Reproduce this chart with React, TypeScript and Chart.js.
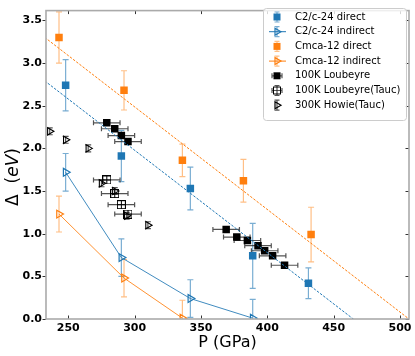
import React, { useEffect, useRef } from 'react';
import { Chart, registerables } from 'chart.js';

Chart.register(...registerables);

const BLUE = '#1f77b4';
const ORANGE = '#ff7f0e';
const BLUE_ERR = 'rgba(31,119,180,0.6)';
const ORANGE_ERR = 'rgba(255,127,14,0.5)';
const BLACK_ERR = 'rgba(40,40,40,0.8)';

// C2/c-24
const c2cDirectP = [248, 290, 342, 389, 431];
const c2cDirectGap = [2.74, 1.91, 1.53, 0.74, 0.42];
const c2cDirectErr = [0.3, 0.3, 0.25, 0.38, 0.18];
const c2cIndirectP = [248, 290, 342, 389];
const c2cIndirectGap = [1.72, 0.72, 0.24, 0.01];
const c2cIndirectErr = [0.22, 0.22, 0.22, 0.22];
const c2cFitIntercept = 5.579;
const c2cFitSlope = -0.012003;

// Cmca-12
const cmcaDirectP = [243, 292, 336, 382, 433];
const cmcaDirectGap = [3.3, 2.68, 1.86, 1.62, 0.99];
const cmcaDirectErr = [0.3, 0.23, 0.19, 0.25, 0.32];
const cmcaIndirectP = [243, 292, 336];
const cmcaIndirectGap = [1.23, 0.48, 0.01];
const cmcaIndirectErr = [0.21, 0.22, 0.21];
const cmcaFitIntercept = 6.094;
const cmcaFitSlope = -0.012025;

// Experiments
const loubeyreP = [279, 285, 290, 295, 369, 377, 385, 393, 398, 404, 413];
const loubeyreGap = [2.3, 2.23, 2.15, 2.08, 1.05, 0.96, 0.92, 0.86, 0.8, 0.74, 0.63];
const loubeyrePErr = [10, 10, 10, 10, 10, 10, 10, 10, 10, 10, 10];

const loubeyreTaucP = [279, 285, 290, 295];
const loubeyreTaucGap = [1.63, 1.47, 1.34, 1.23];
const loubeyreTaucPErr = [10, 10, 10, 10];

const howieP = [236, 248, 265, 275, 285, 294, 310];
const howieGap = [2.2, 2.1, 2.0, 1.59, 1.5, 1.21, 1.1];
const howieErr = [0.04, 0.04, 0.04, 0.04, 0.04, 0.04, 0.04];

const fitRangeP = [225, 515];
const xTicks = [250, 300, 350, 400, 450, 500];
const yTicks = [0, 0.5, 1, 1.5, 2, 2.5, 3, 3.5];
const legendLabels = [
  'C2/c-24 direct',
  'C2/c-24 indirect',
  'Cmca-12 direct',
  'Cmca-12 indirect',
  '100K Loubeyre',
  '100K Loubeyre(Tauc)',
  '300K Howie(Tauc)',
];

const FONT = '"DejaVu Sans", sans-serif';

function pts(xs: number[], ys: number[]) {
  return xs.map((x, i) => ({ x, y: ys[i] }));
}

function makeBoxPlus(size: number) {
  const c = document.createElement('canvas');
  c.width = size;
  c.height = size;
  const g = c.getContext('2d')!;
  g.strokeStyle = '#000';
  g.lineWidth = 1;
  g.strokeRect(0.5, 0.5, size - 1, size - 1);
  g.beginPath();
  g.moveTo(size / 2, 0);
  g.lineTo(size / 2, size);
  g.moveTo(0, size / 2);
  g.lineTo(size, size / 2);
  g.stroke();
  return c;
}

function drawTri(ctx: CanvasRenderingContext2D, x: number, y: number, r: number, color: string) {
  ctx.save();
  ctx.strokeStyle = color;
  ctx.lineWidth = 1.2;
  ctx.beginPath();
  for (let k = 0; k < 3; k++) {
    const a = Math.PI / 2 + (k * 2 * Math.PI) / 3;
    const px = x + Math.sin(a) * r;
    const py = y - Math.cos(a) * r;
    if (k === 0) ctx.moveTo(px, py);
    else ctx.lineTo(px, py);
  }
  ctx.closePath();
  ctx.stroke();
  ctx.restore();
}

function vErr(ctx: CanvasRenderingContext2D, x: number, y1: number, y2: number, color: string, cap = 3) {
  ctx.save();
  ctx.strokeStyle = color;
  ctx.lineWidth = 1.2;
  ctx.beginPath();
  ctx.moveTo(x, y1);
  ctx.lineTo(x, y2);
  ctx.moveTo(x - cap, y1);
  ctx.lineTo(x + cap, y1);
  ctx.moveTo(x - cap, y2);
  ctx.lineTo(x + cap, y2);
  ctx.stroke();
  ctx.restore();
}

function hErr(ctx: CanvasRenderingContext2D, y: number, x1: number, x2: number, color: string, cap = 3) {
  ctx.save();
  ctx.strokeStyle = color;
  ctx.lineWidth = 1.2;
  ctx.beginPath();
  ctx.moveTo(x1, y);
  ctx.lineTo(x2, y);
  ctx.moveTo(x1, y - cap);
  ctx.lineTo(x1, y + cap);
  ctx.moveTo(x2, y - cap);
  ctx.lineTo(x2, y + cap);
  ctx.stroke();
  ctx.restore();
}

const errorBarPlugin = {
  id: 'errbars',
  beforeDatasetsDraw(chart: any) {
    const { ctx, chartArea, scales } = chart;
    const xs = scales.x;
    const ys = scales.y;
    ctx.save();
    ctx.beginPath();
    ctx.rect(chartArea.left, chartArea.top, chartArea.right - chartArea.left, chartArea.bottom - chartArea.top);
    ctx.clip();
    chart.data.datasets.forEach((ds: any) => {
      if (!ds.errY && !ds.errX) return;
      ds.data.forEach((p: any, i: number) => {
        const px = xs.getPixelForValue(p.x);
        const py = ys.getPixelForValue(p.y);
        if (ds.errY) {
          const e = ds.errY[i];
          vErr(ctx, px, ys.getPixelForValue(p.y + e), ys.getPixelForValue(p.y - e), ds.errColor, 3);
        }
        if (ds.errX) {
          const e = ds.errX[i];
          hErr(ctx, py, xs.getPixelForValue(p.x - e), xs.getPixelForValue(p.x + e), ds.errColor, 2.5);
        }
      });
    });
    ctx.restore();
  },
};

const framePlugin = {
  id: 'frame',
  afterDraw(chart: any) {
    const { ctx, chartArea: a, scales } = chart;
    const xs = scales.x;
    const ys = scales.y;
    ctx.save();
    // ticks
    ctx.strokeStyle = '#333';
    ctx.lineWidth = 1;
    ctx.beginPath();
    xTicks.forEach((v) => {
      const px = Math.round(xs.getPixelForValue(v)) + 0.5;
      ctx.moveTo(px, a.bottom);
      ctx.lineTo(px, a.bottom - 3.5);
      ctx.moveTo(px, a.top);
      ctx.lineTo(px, a.top + 3.5);
    });
    yTicks.forEach((v) => {
      const py = Math.round(ys.getPixelForValue(v)) + 0.5;
      ctx.moveTo(a.left, py);
      ctx.lineTo(a.left - 3.5, py);
      ctx.moveTo(a.right, py);
      ctx.lineTo(a.right - 3.5, py);
    });
    ctx.stroke();
    // frame
    ctx.strokeStyle = '#aaaaaa';
    ctx.lineWidth = 1.6;
    ctx.strokeRect(a.left, a.top, a.right - a.left, a.bottom - a.top);
    // titles
    ctx.fillStyle = '#000';
    ctx.font = `16px ${FONT}`;
    ctx.textAlign = 'center';
    ctx.textBaseline = 'middle';
    ctx.fillText('P (GPa)', (a.left + a.right) / 2, 343);
    ctx.translate(14, 177);
    ctx.rotate(-Math.PI / 2);
    const parts: [string, string][] = [
      ['Δ  (', `17px ${FONT}`],
      ['eV', `italic 17px ${FONT}`],
      [')', `17px ${FONT}`],
    ];
    let total = 0;
    parts.forEach(([t, f]) => {
      ctx.font = f;
      total += ctx.measureText(t).width;
    });
    let cx = -total / 2;
    ctx.textAlign = 'left';
    parts.forEach(([t, f]) => {
      ctx.font = f;
      ctx.fillText(t, cx, 0);
      cx += ctx.measureText(t).width;
    });
    ctx.restore();
  },
};

const legendPlugin = {
  id: 'customLegend',
  afterDraw(chart: any) {
    const { ctx } = chart;
    const left = 263;
    const top = 8;
    const right = 406;
    const bottom = 120;
    ctx.save();
    ctx.fillStyle = 'rgba(255,255,255,0.8)';
    ctx.strokeStyle = '#cccccc';
    ctx.lineWidth = 1;
    ctx.beginPath();
    (ctx as any).roundRect(left + 0.5, top + 0.5, right - left, bottom - top, 3);
    ctx.fill();
    ctx.stroke();
    const mx = 277;
    legendLabels.forEach((label, i) => {
      const cy = 17 + i * 14.7;
      if (i === 0 || i === 2) {
        const c = i === 0 ? BLUE : ORANGE;
        const ec = i === 0 ? BLUE_ERR : ORANGE_ERR;
        vErr(ctx, mx, cy - 5, cy + 5, ec, 2.5);
        ctx.fillStyle = c;
        ctx.fillRect(mx - 3.5, cy - 3.5, 7, 7);
      } else if (i === 1 || i === 3) {
        const c = i === 1 ? BLUE : ORANGE;
        const ec = i === 1 ? BLUE_ERR : ORANGE_ERR;
        ctx.strokeStyle = c;
        ctx.lineWidth = 1;
        ctx.beginPath();
        ctx.moveTo(269, cy);
        ctx.lineTo(286, cy);
        ctx.stroke();
        vErr(ctx, mx, cy - 5, cy + 5, ec, 2.5);
        drawTri(ctx, mx, cy, 4, c);
      } else if (i === 4) {
        hErr(ctx, cy, mx - 5, mx + 5, BLACK_ERR, 2.5);
        ctx.fillStyle = '#000';
        ctx.fillRect(mx - 3.5, cy - 3.5, 7, 7);
      } else if (i === 5) {
        hErr(ctx, cy, mx - 5, mx + 5, BLACK_ERR, 2.5);
        vErr(ctx, mx, cy - 5, cy + 5, BLACK_ERR, 2.5);
        ctx.strokeStyle = '#000';
        ctx.lineWidth = 1;
        ctx.strokeRect(mx - 3.5, cy - 3.5, 7, 7);
      } else {
        vErr(ctx, mx, cy - 5, cy + 5, BLACK_ERR, 2.5);
        drawTri(ctx, mx, cy, 4, '#000');
      }
      ctx.fillStyle = '#000';
      ctx.font = `10px ${FONT}`;
      ctx.textAlign = 'left';
      ctx.textBaseline = 'middle';
      ctx.fillText(label, 295, cy);
    });
    ctx.restore();
  },
};

export default function App() {
  const ref = useRef<HTMLCanvasElement>(null);
  useEffect(() => {
    const canvas = ref.current!;
    const boxPlus = makeBoxPlus(9);
    const fitPts = (b: number, m: number) => fitRangeP.map((p) => ({ x: p, y: b + m * p }));
    const tickFont = { family: FONT, size: 11, weight: 'bold' as const };
    const chart = new Chart(canvas, {
      type: 'scatter',
      data: {
        datasets: [
          {
            label: 'C2/c-24 fit',
            data: fitPts(c2cFitIntercept, c2cFitSlope),
            showLine: true,
            borderColor: BLUE,
            borderWidth: 1,
            borderDash: [2.5, 1.5],
            pointRadius: 0,
          },
          {
            label: 'Cmca-12 fit',
            data: fitPts(cmcaFitIntercept, cmcaFitSlope),
            showLine: true,
            borderColor: ORANGE,
            borderWidth: 1,
            borderDash: [2.5, 1.5],
            pointRadius: 0,
          },
          {
            label: 'C2/c-24 indirect',
            data: pts(c2cIndirectP, c2cIndirectGap),
            errY: c2cIndirectErr,
            errColor: BLUE_ERR,
            showLine: true,
            borderColor: 'rgba(31,119,180,0.85)',
            borderWidth: 1,
            pointStyle: 'triangle',
            pointRotation: 90,
            pointRadius: 4.5,
            pointBorderColor: BLUE,
            pointBackgroundColor: 'rgba(255,255,255,0)',
            pointBorderWidth: 1.2,
          },
          {
            label: 'Cmca-12 indirect',
            data: pts(cmcaIndirectP, cmcaIndirectGap),
            errY: cmcaIndirectErr,
            errColor: ORANGE_ERR,
            showLine: true,
            borderColor: 'rgba(255,127,14,0.85)',
            borderWidth: 1,
            pointStyle: 'triangle',
            pointRotation: 90,
            pointRadius: 4.5,
            pointBorderColor: ORANGE,
            pointBackgroundColor: 'rgba(255,255,255,0)',
            pointBorderWidth: 1.2,
          },
          {
            label: 'C2/c-24 direct',
            data: pts(c2cDirectP, c2cDirectGap),
            errY: c2cDirectErr,
            errColor: BLUE_ERR,
            pointStyle: 'rect',
            pointRadius: 5.3,
            pointBackgroundColor: BLUE,
            pointBorderColor: BLUE,
            pointBorderWidth: 0,
          },
          {
            label: 'Cmca-12 direct',
            data: pts(cmcaDirectP, cmcaDirectGap),
            errY: cmcaDirectErr,
            errColor: ORANGE_ERR,
            pointStyle: 'rect',
            pointRadius: 5.3,
            pointBackgroundColor: ORANGE,
            pointBorderColor: ORANGE,
            pointBorderWidth: 0,
          },
          {
            label: '100K Loubeyre',
            data: pts(loubeyreP, loubeyreGap),
            errX: loubeyrePErr,
            errColor: BLACK_ERR,
            pointStyle: 'rect',
            pointRadius: 5.3,
            pointBackgroundColor: '#000',
            pointBorderColor: '#000',
            pointBorderWidth: 0,
          },
          {
            label: '100K Loubeyre(Tauc)',
            data: pts(loubeyreTaucP, loubeyreTaucGap),
            errX: loubeyreTaucPErr,
            errColor: BLACK_ERR,
            pointStyle: boxPlus,
            pointRadius: 4.5,
          },
          {
            label: '300K Howie(Tauc)',
            data: pts(howieP, howieGap),
            errY: howieErr,
            errColor: BLACK_ERR,
            pointStyle: 'triangle',
            pointRotation: 90,
            pointRadius: 4.2,
            pointBorderColor: '#000',
            pointBackgroundColor: 'rgba(255,255,255,0)',
            pointBorderWidth: 1.1,
          },
        ] as any,
      },
      options: {
        responsive: false,
        animation: false,
        devicePixelRatio: 1,
        layout: { padding: { top: 4, right: 6, left: 0, bottom: 0 } },
        plugins: { legend: { display: false }, tooltip: { enabled: false } },
        events: [],
        scales: {
          x: {
            type: 'linear',
            min: 233.2,
            max: 506.8,
            afterBuildTicks: (s: any) => {
              s.ticks = xTicks.map((v) => ({ value: v }));
            },
            afterFit: (s: any) => {
              s.height = 37;
            },
            grid: { display: false, drawTicks: false },
            border: { display: false },
            ticks: {
              font: tickFont,
              color: '#000',
              padding: 3,
              maxRotation: 0,
              autoSkip: false,
              callback: (v: any) => String(v),
            },
          },
          y: {
            type: 'linear',
            min: 0,
            max: 3.615,
            afterBuildTicks: (s: any) => {
              s.ticks = yTicks.map((v) => ({ value: v }));
            },
            afterFit: (s: any) => {
              s.width = 46;
            },
            grid: { display: false, drawTicks: false },
            border: { display: false },
            ticks: {
              font: tickFont,
              color: '#000',
              padding: 4,
              autoSkip: false,
              callback: (v: any) => Number(v).toFixed(1),
            },
          },
        },
      } as any,
      plugins: [errorBarPlugin, framePlugin, legendPlugin],
    });
    return () => chart.destroy();
  }, []);
  return (
    <div style={{ position: 'fixed', left: 0, top: 0, width: 415, height: 356, background: '#fff' }}>
      <canvas ref={ref} width={415} height={356} style={{ width: 415, height: 356, display: 'block' }} />
    </div>
  );
}
